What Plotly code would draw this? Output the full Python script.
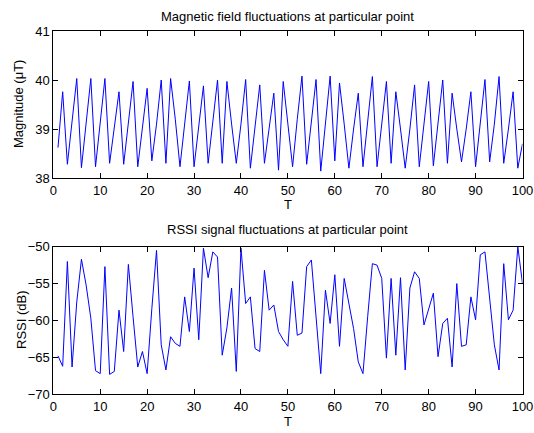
import plotly.graph_objects as go

# ---- data ----
t = list(range(1, 101))

magnitude = [
    38.62, 39.76, 38.28, 39.10, 40.03, 38.21, 39.10, 40.03, 38.23, 39.12,
    40.03, 38.30, 39.00, 39.76, 38.28, 39.10, 39.97, 38.23, 39.00, 39.83,
    38.35, 39.10, 40.00, 38.30, 40.03, 39.20, 38.23, 39.10, 39.98, 38.23,
    39.00, 39.88, 38.30, 39.10, 40.00, 38.30, 39.97, 39.10, 38.30, 39.10,
    40.01, 38.20, 39.00, 39.90, 38.30, 39.00, 39.73, 38.16, 39.97, 39.10,
    38.23, 39.20, 40.08, 38.28, 39.10, 40.01, 38.14, 39.10, 40.08, 38.35,
    39.94, 39.10, 38.20, 39.00, 39.73, 38.23, 39.10, 40.07, 38.23, 39.10,
    39.97, 38.30, 39.76, 39.00, 38.20, 39.00, 39.90, 38.23, 39.10, 39.97,
    38.25, 39.10, 40.00, 38.30, 39.73, 39.00, 38.33, 39.00, 39.76, 38.23,
    39.10, 40.01, 38.33, 39.10, 40.07, 38.30, 39.00, 39.76, 38.20, 38.70,
]

rssi = [
    -64.8, -66.2, -52.0, -66.3, -57.5, -51.7, -55.2, -59.7, -66.8, -67.2,
    -52.7, -67.3, -66.9, -58.6, -64.2, -52.4, -59.5, -66.3, -64.2, -67.2,
    -58.4, -50.5, -63.3, -66.7, -62.2, -63.1, -63.5, -56.8, -61.5, -52.9,
    -62.6, -50.2, -54.2, -50.7, -51.4, -64.7, -61.0, -55.6, -66.9, -50.2,
    -57.7, -56.8, -63.8, -64.2, -53.2, -58.6, -57.9, -61.5, -62.6, -63.5,
    -54.7, -62.0, -61.7, -52.7, -51.8, -59.3, -67.2, -55.9, -60.4, -53.8,
    -63.5, -54.3, -57.5, -61.1, -65.6, -67.2, -59.5, -52.3, -52.5, -54.3,
    -65.1, -54.3, -64.7, -54.2, -66.7, -55.6, -53.4, -54.3, -60.6, -58.4,
    -56.3, -64.9, -60.4, -59.7, -66.3, -55.0, -63.5, -63.3, -56.8, -59.9,
    -51.1, -50.7, -57.5, -63.3, -66.7, -52.3, -59.9, -58.6, -50.0, -55.0,
]

x_ticks = [0, 10, 20, 30, 40, 50, 60, 70, 80, 90, 100]
mag_ticks = [38, 39, 40, 41]
rssi_ticks = [-70, -65, -60, -55, -50]

title_top = "Magnetic field fluctuations at particular point"
title_bottom = "RSSI signal fluctuations at particular point"
xlabel = "T"
ylabel_top = "Magnitude (\u03bcT)"
ylabel_bottom = "RSSI (dB)"

# ---- figure ----
W, H = 534, 433
FONT = "Liberation Sans, Arial, Helvetica, sans-serif"
line_color = "#0000ff"

fig = go.Figure()
fig.add_trace(go.Scatter(x=t, y=magnitude, mode="lines",
                         line=dict(color=line_color, width=1),
                         xaxis="x", yaxis="y", showlegend=False))
fig.add_trace(go.Scatter(x=t, y=rssi, mode="lines",
                         line=dict(color=line_color, width=1),
                         xaxis="x2", yaxis="y2", showlegend=False))

def px_x(p):
    return p / W

def px_y(p):
    return 1 - p / H

axis_common = dict(showline=True, linecolor="black", linewidth=1, mirror="allticks",
                   ticks="inside", ticklen=5, tickcolor="black", tickwidth=1,
                   showgrid=False, zeroline=False, automargin=False,
                   tickfont=dict(family=FONT, size=13, color="black"))

x_dom = [px_x(53.3), px_x(522.5)]

fig.update_layout(
    width=W, height=H,
    margin=dict(l=0, r=0, t=0, b=0),
    paper_bgcolor="white", plot_bgcolor="white",
    font=dict(family=FONT, size=13, color="black"),
    xaxis=dict(domain=x_dom, range=[0, 100], tickvals=x_ticks, anchor="y", **axis_common),
    yaxis=dict(domain=[px_y(178), px_y(31)], range=[38, 41], tickvals=mag_ticks,
               anchor="x", **axis_common),
    xaxis2=dict(domain=x_dom, range=[0, 100], tickvals=x_ticks, anchor="y2", **axis_common),
    yaxis2=dict(domain=[px_y(394.3), px_y(246.7)], range=[-70, -50], tickvals=rssi_ticks,
                anchor="x2", **axis_common),
)

ann = []
cx = (53.3 + 522.5) / 2 / W
def add_text(text, x, y, angle=0):
    ann.append(dict(text=text, x=x, y=y, xref="paper", yref="paper",
                    showarrow=False, xanchor="center", yanchor="middle", textangle=angle,
                    font=dict(family=FONT, size=13, color="black")))

add_text(title_top, cx, px_y(16))
add_text(title_bottom, cx, px_y(230))
add_text(xlabel, cx, px_y(204))
add_text(xlabel, cx, px_y(421))
add_text(ylabel_top, px_x(19), px_y(104), -90)
add_text(ylabel_bottom, px_x(21), px_y(320), -90)
fig.update_layout(annotations=ann)

fig.write_html("out.html", config={"displayModeBar": False},
               post_script="document.body.style.margin='0px';")
